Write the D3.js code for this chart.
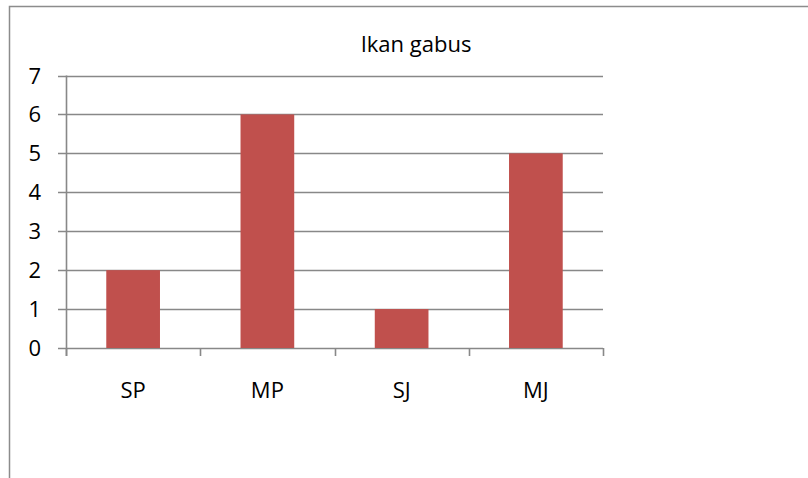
<!DOCTYPE html>
<html>
<head>
<meta charset="utf-8">
<script src="https://cdn.jsdelivr.net/npm/d3@7"></script>
<style>
  html, body { margin: 0; padding: 0; background: #fff; }
  svg { display: block; font-family: 'Open Sans', sans-serif; }
</style>
</head>
<body>
<div id="chart"></div>
<script>

/**
 * Data
 */

const categories = ['SP', 'MP', 'SJ', 'MJ'];
const values = [2, 6, 1, 5];
const yTicks = [0, 1, 2, 3, 4, 5, 6, 7];
const title = 'Ikan gabus';


/**
 * Setup
 */

const width = 808;
const height = 478;

const colors = {
  bar: '#C0504D',
  grid: '#888888',
  border: '#8C8C8C',
  text: '#000000',
};

const plot = { left: 66, right: 603, top: 75.5, bottom: 348 };

const svg = d3.select('#chart')
              .append('svg')
              .attr('width', width)
              .attr('height', height);

// outer frame, only the top and left edges are visible
svg.append('rect')
   .attr('x', 9.5)
   .attr('y', 6.5)
   .attr('width', width + 20)
   .attr('height', height + 20)
   .attr('fill', 'none')
   .attr('stroke', colors.border)
   .attr('stroke-width', 1.5);

const x = d3.scaleBand()
            .domain(categories)
            .range([plot.left, plot.right])
            .paddingInner(0.6)
            .paddingOuter(0.3);

const y = d3.scaleLinear()
            .domain([0, 7])
            .range([plot.bottom, plot.top]);


/**
 * Grid
 */

svg.append('g')
   .selectAll('line')
   .data(yTicks)
   .enter()
   .append('line')
   .attr('x1', plot.left - 8)
   .attr('x2', plot.right)
   .attr('y1', d => Math.round(y(d)) + 0.5)
   .attr('y2', d => Math.round(y(d)) + 0.5)
   .attr('stroke', colors.grid)
   .attr('stroke-width', 1.6);


/**
 * Bars
 */

svg.append('g')
   .selectAll('rect')
   .data(values)
   .enter()
   .append('rect')
   .attr('x', (d, i) => x(categories[i]))
   .attr('width', x.bandwidth())
   .attr('y', d => y(d))
   .attr('height', d => y(0) - y(d))
   .attr('fill', colors.bar);


/**
 * Axes
 */

svg.append('line')
   .attr('x1', plot.left + 0.5)
   .attr('x2', plot.left + 0.5)
   .attr('y1', plot.top)
   .attr('y2', plot.bottom + 8)
   .attr('stroke', colors.grid)
   .attr('stroke-width', 1.6);

// category boundary ticks under the baseline
const boundaries = d3.range(categories.length + 1)
                     .map(i => plot.left + i * (plot.right - plot.left) / categories.length);

svg.append('g')
   .selectAll('line')
   .data(boundaries)
   .enter()
   .append('line')
   .attr('x1', d => Math.round(d) + 0.5)
   .attr('x2', d => Math.round(d) + 0.5)
   .attr('y1', plot.bottom)
   .attr('y2', plot.bottom + 8)
   .attr('stroke', colors.grid)
   .attr('stroke-width', 1.6);

svg.append('g')
   .selectAll('text')
   .data(yTicks)
   .enter()
   .append('text')
   .attr('x', 41)
   .attr('y', d => y(d) + 8)
   .attr('text-anchor', 'end')
   .attr('font-size', 22)
   .attr('fill', colors.text)
   .text(d => d);

svg.append('g')
   .selectAll('text')
   .data(categories)
   .enter()
   .append('text')
   .attr('x', d => x(d) + x.bandwidth() / 2)
   .attr('y', 398)
   .attr('text-anchor', 'middle')
   .attr('font-size', 22)
   .attr('fill', colors.text)
   .text(d => d);


/**
 * Title
 */

svg.append('text')
   .attr('x', 416)
   .attr('y', 52)
   .attr('text-anchor', 'middle')
   .attr('font-size', 22)
   .attr('fill', colors.text)
   .text(title);

</script>
</body>
</html>
